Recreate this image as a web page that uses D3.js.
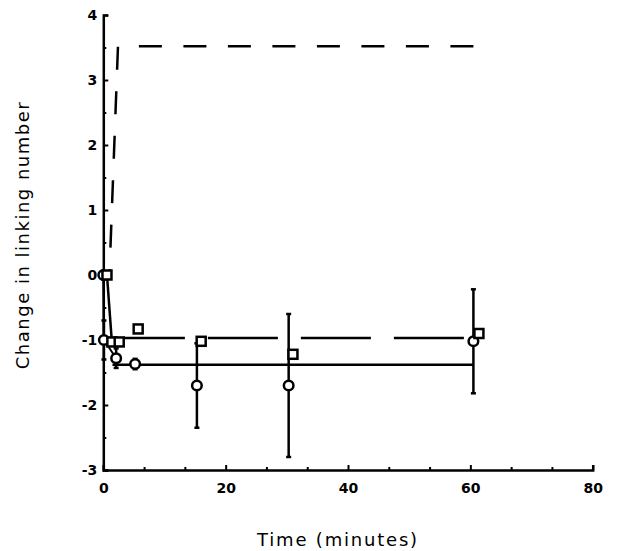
<!DOCTYPE html>
<html>
<head>
<meta charset="utf-8">
<script src="https://d3js.org/d3.v7.min.js"></script>
<style>
body { margin: 0; background: #fff; }
svg { display: block; }
.tick text { font-family: "DejaVu Sans", sans-serif; font-size: 14px; font-weight: bold; fill: #000; }
.title { font-family: "DejaVu Sans", sans-serif; font-size: 18px; fill: #000; }
</style>
</head>
<body>
<svg></svg>
<script>
// circles with error bars
const circleT = [0, 0.1, 2.1, 5.2, 15.3, 30.3, 60.5];
const circleV = [0, -1.0, -1.28, -1.37, -1.7, -1.7, -1.02];
const circleErr = [0, 0.3, 0.15, 0.08, 0.65, 1.1, 0.8];

// squares
const squareT = [0.6, 1.4, 2.6, 5.7, 16, 31, 61.4];
const squareV = [0, -1.03, -1.03, -0.83, -1.02, -1.22, -0.9];

// reference curves (rise drawn from its right end)
const riseT = [60.5, 2.4, 1.0];
const riseV = [3.52, 3.52, 0];
const plateauT = [3.2, 60.5];
const plateauV = [-0.97, -0.97];
const fitT = [1.5, 60.5];
const fitV = [-1.38, -1.38];
// early connecting segments
const squareLinkT = [0.6, 1.4];
const squareLinkV = [0, -1.03];
const circleLinkT = [0, 0.1, 2.1];
const circleLinkV = [0, -1.0, -1.28];

const xTicks = [0, 20, 40, 60, 80];
const yTicks = [-3, -2, -1, 0, 1, 2, 3, 4];

const width = 621, height = 551;
const svg = d3.select("svg").attr("width", width).attr("height", height);

const x = d3.scaleLinear().domain([0, 80]).range([103.3, 592.7]);
const y = d3.scaleLinear().domain([-3, 4]).range([470, 15]);

const zip = (ts, vs) => ts.map((t, i) => [t, vs[i]]);
const line = d3.line().x(d => x(d[0])).y(d => y(d[1]));

// axes
svg.append("g")
  .attr("transform", "translate(0," + y(-3) + ")")
  .call(d3.axisBottom(x).tickValues(xTicks).tickSize(-5).tickPadding(13).tickFormat(d3.format("d")));
const xMinor = svg.append("g")
  .attr("transform", "translate(0," + y(-3) + ")")
  .call(d3.axisBottom(x).tickValues(d3.range(0, 80, 20 / 3).filter((d, i) => i % 3 != 0)).tickSize(-3).tickFormat(""));
svg.append("g")
  .attr("transform", "translate(" + x(0) + ",0)")
  .call(d3.axisLeft(y).tickValues(yTicks).tickSize(-5).tickPadding(6).tickFormat(d => d < 0 ? "-" + Math.abs(d) : String(d)));
const yMinor = svg.append("g")
  .attr("transform", "translate(" + x(0) + ",0)")
  .call(d3.axisLeft(y).tickValues(d3.range(-2.5, 4, 1)).tickSize(-3).tickFormat(""));

svg.selectAll(".domain").attr("stroke", "#000").attr("stroke-width", 2.5);
xMinor.select(".domain").remove();
yMinor.select(".domain").remove();
svg.selectAll(".tick line").attr("stroke", "#000").attr("stroke-width", 2);

// curves
svg.append("path").datum(zip(riseT, riseV)).attr("d", line)
  .attr("fill", "none").attr("stroke", "#000").attr("stroke-width", 2.5)
  .attr("stroke-dasharray", "23,21.5");
svg.append("path").datum(zip(plateauT, plateauV)).attr("d", line)
  .attr("fill", "none").attr("stroke", "#000").attr("stroke-width", 2.5)
  .attr("stroke-dasharray", "70,23").attr("stroke-dashoffset", 8);
svg.append("path").datum(zip(fitT, fitV)).attr("d", line)
  .attr("fill", "none").attr("stroke", "#000").attr("stroke-width", 2.5);
svg.append("path").datum(zip(squareLinkT, squareLinkV)).attr("d", line)
  .attr("fill", "none").attr("stroke", "#000").attr("stroke-width", 2.5);
svg.append("path").datum(zip(circleLinkT, circleLinkV)).attr("d", line)
  .attr("fill", "none").attr("stroke", "#000").attr("stroke-width", 2);

// error bars
const circles = circleT.map((t, i) => ({ t: t, v: circleV[i], e: circleErr[i] }));
const err = svg.append("g").selectAll("g").data(circles.filter(d => d.e > 0)).join("g");
err.append("line")
  .attr("x1", d => x(d.t)).attr("x2", d => x(d.t))
  .attr("y1", d => y(d.v + d.e)).attr("y2", d => y(d.v - d.e))
  .attr("stroke", "#000").attr("stroke-width", 2.5);
err.selectAll("line.cap").data(d => [[d.t, d.v + d.e], [d.t, d.v - d.e]]).join("line")
  .attr("class", "cap")
  .attr("x1", d => x(d[0]) - 2.5).attr("x2", d => x(d[0]) + 2.5)
  .attr("y1", d => y(d[1])).attr("y2", d => y(d[1]))
  .attr("stroke", "#000").attr("stroke-width", 2.5);

// markers
svg.append("g").selectAll("circle").data(circles).join("circle")
  .attr("cx", d => x(d.t)).attr("cy", d => y(d.v)).attr("r", 4.8)
  .attr("fill", "#fff").attr("stroke", "#000").attr("stroke-width", 2.5);

const squares = squareT.map((t, i) => ({ t: t, v: squareV[i] }));
svg.append("g").selectAll("rect").data(squares).join("rect")
  .attr("x", d => x(d.t) - 4.5).attr("y", d => y(d.v) - 4.5)
  .attr("width", 9).attr("height", 9)
  .attr("fill", "#fff").attr("stroke", "#000").attr("stroke-width", 2.5);

// titles
svg.append("text").attr("class", "title")
  .attr("text-anchor", "middle")
  .style("letter-spacing", "1.5px")
  .attr("transform", "translate(29,235) rotate(-90)")
  .text("Change in linking number");
svg.append("text").attr("class", "title")
  .attr("text-anchor", "middle")
  .style("letter-spacing", "1.8px")
  .attr("x", 338).attr("y", 546)
  .text("Time (minutes)");
</script>
</body>
</html>
